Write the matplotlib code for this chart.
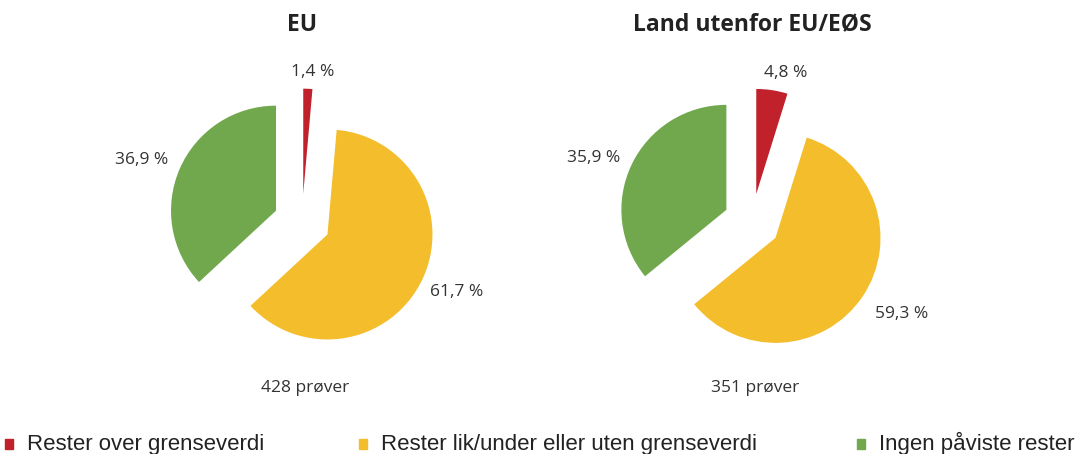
import matplotlib.pyplot as plt
import numpy as np

plt.rcParams['font.family'] = ['Open Sans', 'DejaVu Sans']

# Data
categories = ['Rester over grenseverdi',
              'Rester lik/under eller uten grenseverdi',
              'Ingen påviste rester']
titles = ['EU', 'Land utenfor EU/EØS']
shares = [
    [1.4, 61.7, 36.9],
    [4.8, 59.3, 35.9],
]
sample_labels = ['428 prøver', '351 prøver']

colors = ['#C0212B', '#F4BD2B', '#72A84D']

# label placement (radius from exploded wedge centre, angle tweak in degrees)
label_dist = [
    [1.16, 1.35, 1.37],
    [1.19, 1.40, 1.36],
]
label_turn = [
    [-2, 2, 3],
    [-5, 3, 4],
]

W, H = 1075, 454
fig = plt.figure(figsize=(W / 100, H / 100), dpi=100)

r_px = 105
centers_px = [(302, 222), (752, 222)]
half = 1.5  # data half-width of each axes

for i, (cx, cy) in enumerate(centers_px):
    size = 2 * half * r_px
    ax = fig.add_axes([(cx - size / 2) / W, (H - cy - size / 2) / H, size / W, size / H])
    wedges, _ = ax.pie(shares[i], colors=colors, startangle=90, counterclock=False,
                       explode=[0.27] * 3, radius=1,
                       wedgeprops={'linewidth': 0})
    ax.set_xlim(-half, half)
    ax.set_ylim(-half, half)
    ax.set_aspect('equal')
    ax.axis('off')

    for w, val, d, t in zip(wedges, shares[i], label_dist[i], label_turn[i]):
        ang = np.deg2rad((w.theta1 + w.theta2) / 2 + t)
        x0, y0 = w.center
        ax.text(x0 + d * np.cos(ang), y0 + d * np.sin(ang),
                f'{val:.1f} %'.replace('.', ','),
                ha='center', va='center', fontsize=12.5, color='#333333')

    ax.text(0, 1.88, titles[i], ha='center', va='center', fontsize=16.5,
            fontweight='bold', color='#222222', clip_on=False)
    ax.text(0.03, -1.58, sample_labels[i], ha='center', va='center', fontsize=12.5,
            color='#333333', clip_on=False)

# Legend along the bottom
legend_x = [5, 359, 857]
for x, lab, c in zip(legend_x, categories, colors):
    fig.patches.append(plt.Rectangle((x / W, (H - 449) / H), 8 / W, 10 / H,
                                     transform=fig.transFigure, color=c))
    fig.text((x + 22) / W, (H - 450) / H, lab, ha='left', va='baseline',
             fontsize=16, family='Liberation Sans', color='#222222')

fig.savefig('out.png', dpi=100, facecolor='white')
